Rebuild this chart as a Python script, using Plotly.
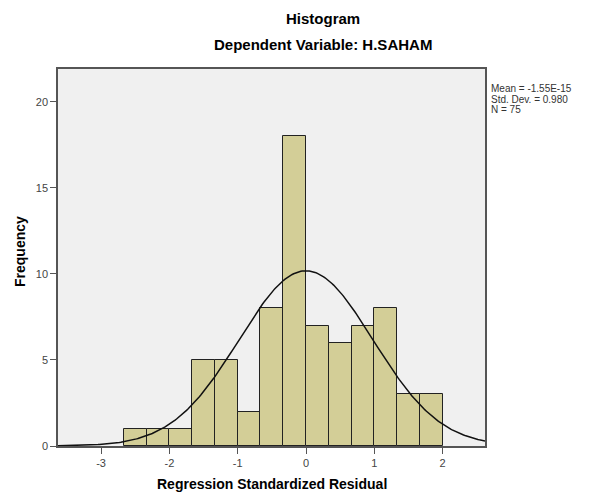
import numpy as np
import plotly.graph_objects as go

# Histogram data
bin_start = -2.6667
bin_width = 1 / 3
counts = [1, 1, 1, 5, 5, 2, 8, 18, 7, 6, 7, 8, 3, 3]

# Summary statistics shown in the chart
mean = -1.55e-15
std = 0.980
n = 75
stats_lines = ["Mean = -1.55E-15", "Std. Dev. = 0.980", "N = 75"]

x_ticks = [-3, -2, -1, 0, 1, 2]
x_tick_labels = ["-3", "-2", "-1", "0", "1", "2"]
y_ticks = [0, 5, 10, 15, 20]
y_tick_labels = ["0", "5", "10", "15", "20"]
x_range = [-3.63, 2.62]
y_range = [0, 21.9]

centers = [bin_start + bin_width * (i + 0.5) for i in range(len(counts))]

# fitted normal curve (as drawn by SPSS from mean / std / N)
xs = np.linspace(x_range[0], x_range[1], 300)
ys = n * bin_width * np.exp(-((xs - mean) ** 2) / (2 * std ** 2)) / (std * np.sqrt(2 * np.pi))

# page offset (body margin of the html page)
OFF = 8
W, H = 594 - OFF, 495 - OFF
L, R, T, B = 58 - OFF, 485 - OFF, 69 - OFF, 446 - OFF
PW, PH = R - L, B - T


def px(xp):
    return (xp - OFF - L) / PW


def py(yp):
    return (B - (yp - OFF)) / PH


fig = go.Figure()
fig.add_trace(go.Bar(
    x=centers, y=counts, width=bin_width,
    marker=dict(color="#D3CE97", line=dict(color="#222222", width=1)),
    hoverinfo="x+y", showlegend=False,
))
fig.add_trace(go.Scatter(
    x=xs, y=ys, mode="lines",
    line=dict(color="#111111", width=1.5),
    showlegend=False, hoverinfo="skip",
))

axis_common = dict(
    showline=True, linecolor="#555555", linewidth=1.5, mirror=True,
    ticks="outside", ticklen=6, tickcolor="#555555", tickwidth=1,
    showgrid=False, zeroline=False,
    tickfont=dict(family="Liberation Sans, Arial, sans-serif", size=11, color="#444444"),
)

fig.update_layout(
    width=W, height=H,
    margin=dict(l=L, r=W - R, t=T, b=H - B),
    paper_bgcolor="white", plot_bgcolor="#F0F0F0",
    font=dict(family="Liberation Sans, Arial, sans-serif", color="black"),
    bargap=0,
    xaxis=dict(range=x_range, tickvals=x_ticks, ticktext=x_tick_labels, **axis_common),
    yaxis=dict(range=y_range, tickvals=y_ticks, ticktext=y_tick_labels, **axis_common),
)

fig.add_annotation(text="<b>Histogram</b>", xref="paper", yref="paper",
                   x=px(323), y=py(18), yanchor="middle",
                   showarrow=False, font=dict(size=15))
fig.add_annotation(text="<b>Dependent Variable: H.SAHAM</b>", xref="paper", yref="paper",
                   x=px(323), y=py(44), yanchor="middle",
                   showarrow=False, font=dict(size=15))
fig.add_annotation(text="<b>Regression Standardized Residual</b>", xref="paper", yref="paper",
                   x=px(272), y=py(484), yanchor="middle",
                   showarrow=False, font=dict(size=14))
fig.add_annotation(text="<b>Frequency</b>", xref="paper", yref="paper",
                   x=px(20), y=py(252), xanchor="center", yanchor="middle",
                   textangle=-90, showarrow=False, font=dict(size=14))

for i, line in enumerate(stats_lines):
    fig.add_annotation(text=line, xref="paper", yref="paper",
                       x=px(489), y=py(88 + 11 * i),
                       xanchor="left", yanchor="middle", showarrow=False,
                       font=dict(size=10, color="#333333"))

fig.write_html("out.html")
